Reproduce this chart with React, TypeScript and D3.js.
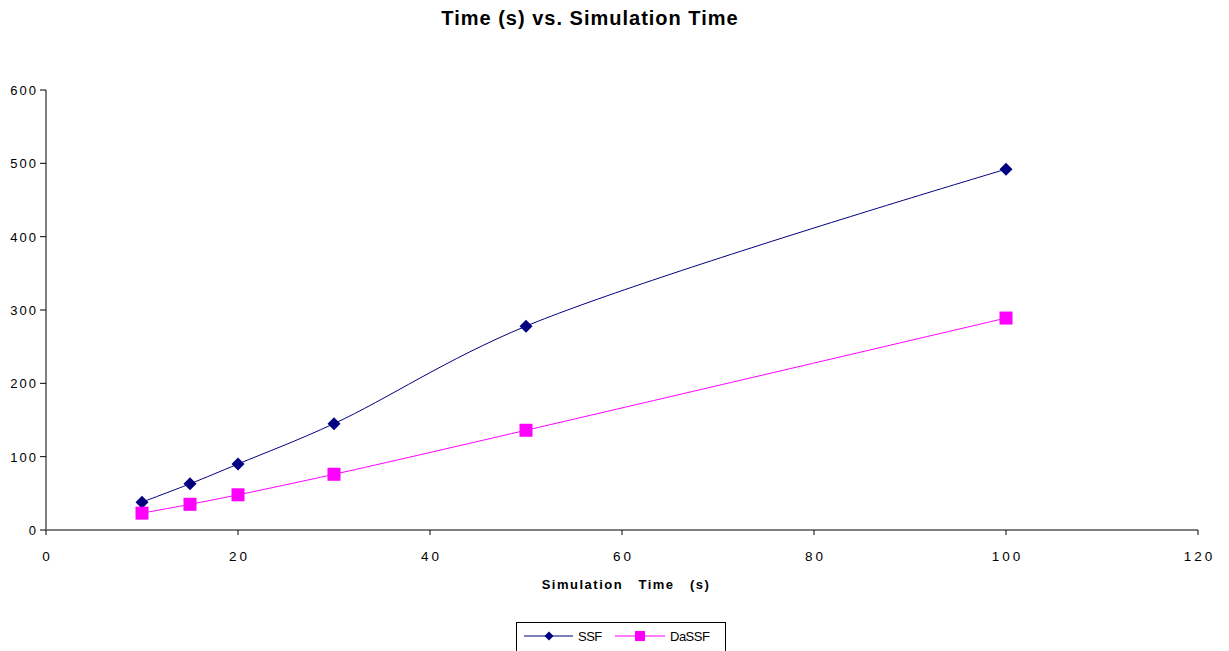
import React from "react";
import * as d3 from "d3";

const simTimes = [10, 15, 20, 30, 50, 100];
const ssfTimes = [38, 63, 90, 145, 278, 492];
const dassfTimes = [23, 35, 48, 76, 136, 289];
const xTicks = [0, 20, 40, 60, 80, 100, 120];
const yTicks = [0, 100, 200, 300, 400, 500, 600];

const W = 1229;
const H = 651;

export default function App() {
  const x = d3.scaleLinear().domain([0, 120]).range([46, 1198]);
  const y = d3.scaleLinear().domain([0, 600]).range([530, 90]);

  const line = d3
    .line<[number, number]>()
    .x((d) => x(d[0]))
    .y((d) => y(d[1]))
    .curve(d3.curveCatmullRom.alpha(0.5));

  const ssfPts = simTimes.map((t, i) => [t, ssfTimes[i]] as [number, number]);
  const daPts = simTimes.map((t, i) => [t, dassfTimes[i]] as [number, number]);

  const navy = "#000080";
  const magenta = "#FF00FF";
  const font = "Arial, 'Liberation Sans', sans-serif";

  const diamond = (cx: number, cy: number, r: number) =>
    `M${cx},${cy - r}L${cx + r},${cy}L${cx},${cy + r}L${cx - r},${cy}Z`;

  return (
    <svg
      width={W}
      height={H}
      style={{ position: "absolute", left: 0, top: 0, background: "#fff" }}
      fontFamily={font}
    >
      <rect width={W} height={H} fill="#fff" />
      <text
        x={590}
        y={25}
        textAnchor="middle"
        fontSize={20}
        fontWeight="bold"
        letterSpacing={1}
      >
        Time (s) vs. Simulation Time
      </text>

      {/* y axis title, mostly outside the drawing area */}
      <text
        transform={`translate(-3,${y(350)}) rotate(-90)`}
        textAnchor="middle"
        fontSize={12}
        fill="#d8d8d8"
      >
        Time (s)
      </text>

      {/* y axis */}
      <line x1={46} x2={46} y1={y(600)} y2={y(0)} stroke="#000" strokeWidth={1} />
      {yTicks.map((t) => (
        <g key={"y" + t}>
          <line x1={40} x2={46} y1={y(t)} y2={y(t)} stroke="#000" />
          <text
            x={38}
            y={y(t) + 5}
            textAnchor="end"
            fontSize={13}
            letterSpacing={2}
            fill="#000"
          >
            {t}
          </text>
        </g>
      ))}

      {/* x axis */}
      <line x1={x(0)} x2={x(120)} y1={530} y2={530} stroke="#808080" strokeWidth={2} />
      {xTicks.map((t) => (
        <g key={"x" + t}>
          <line x1={x(t)} x2={x(t)} y1={530} y2={535} stroke="#000" />
          <text
            x={x(t) + 1.5}
            y={561}
            textAnchor="middle"
            fontSize={13.5}
            letterSpacing={3}
            fill="#000"
          >
            {t}
          </text>
        </g>
      ))}
      <text
        x={626}
        y={589}
        textAnchor="middle"
        fontSize={13}
        fontWeight="bold"
        letterSpacing={1.5}
        style={{ whiteSpace: "pre" }}
      >
        {"Simulation   Time   (s)"}
      </text>

      {/* series */}
      <path d={line(ssfPts) || ""} fill="none" stroke={navy} strokeWidth={1} />
      <path d={line(daPts) || ""} fill="none" stroke={magenta} strokeWidth={1} />
      {ssfPts.map((p, i) => (
        <path key={"s" + i} d={diamond(x(p[0]), y(p[1]), 6.5)} fill={navy} />
      ))}
      {daPts.map((p, i) => (
        <rect
          key={"d" + i}
          x={x(p[0]) - 6.5}
          y={y(p[1]) - 6.5}
          width={13}
          height={13}
          fill={magenta}
        />
      ))}

      {/* legend */}
      <rect x={516.5} y={622.5} width={209} height={40} fill="#fff" stroke="#000" />
      <line x1={524} x2={573} y1={636} y2={636} stroke={navy} />
      <path d={diamond(549, 636, 4.5)} fill={navy} />
      <text x={578} y={641} fontSize={13} letterSpacing={-0.5}>
        SSF
      </text>
      <line x1={615} x2={665} y1={636} y2={636} stroke={magenta} />
      <rect x={635} y={631} width={10} height={10} fill={magenta} />
      <text x={670} y={641} fontSize={13} letterSpacing={-0.5}>
        DaSSF
      </text>
    </svg>
  );
}
